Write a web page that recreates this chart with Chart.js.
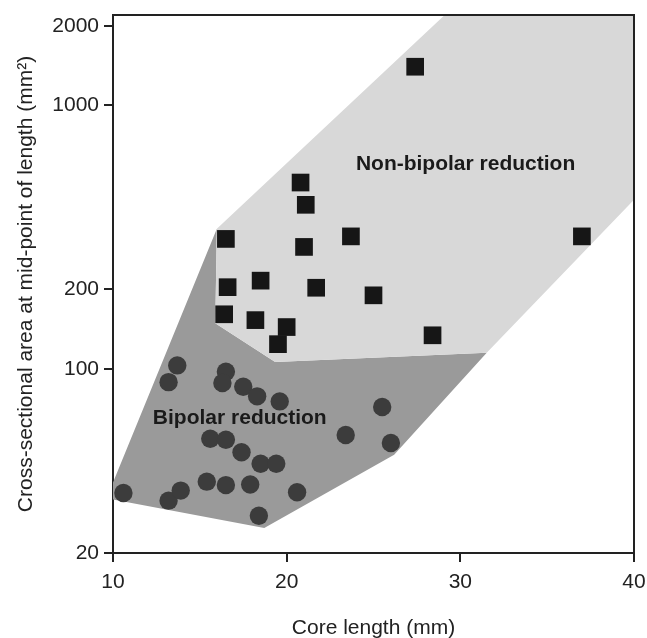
<!DOCTYPE html>
<html>
<head>
<meta charset="utf-8">
<title>Core length vs cross-sectional area</title>
<script src="https://cdn.jsdelivr.net/npm/chart.js@4/dist/chart.umd.min.js"></script>
<style>
  html, body { margin: 0; padding: 0; background: #fff; }
  canvas { display: block; }
</style>
</head>
<body>
<canvas id="coreChart" width="647" height="638"></canvas>
<script>
// axis ticks
const xTicks = [10, 20, 30, 40];
const yTicks = [20, 100, 200, 1000, 2000];

// non-bipolar cores (squares): core length (mm), area (mm2)
const squareLength = [27.4, 20.8, 21.1, 16.5, 21.0, 23.7, 37.0, 16.6, 18.5, 21.7, 25.0, 28.4, 16.4, 18.2, 20.0, 19.5];
const squareArea   = [1400, 509, 419, 311, 290, 318, 318, 204, 216, 203, 190, 134, 161, 153, 144, 124];

// bipolar cores (circles)
const circleLength = [13.7, 13.2, 16.5, 16.3, 17.5, 18.3, 19.6, 15.6, 16.5, 17.4, 18.5, 19.4, 10.6, 13.2, 13.9, 15.4, 16.5, 17.9, 18.4, 20.6, 25.5, 23.4, 26.0];
const circleArea   = [103, 89, 97.5, 88.3, 85.5, 78.6, 75.2, 54.3, 53.8, 48.2, 43.6, 43.6, 33.8, 31.6, 34.5, 37.3, 36.2, 36.4, 27.7, 34.0, 71.6, 56.1, 52.3];

// shaded zones (outline vertices)
const nonBipolarZoneX = [15.98, 29.1, 40, 40, 31.52, 19.34, 15.89];
const nonBipolarZoneY = [340, 2200, 2200, 438, 115, 106, 149];
const bipolarZoneX = [15.98, 10, 10, 18.71, 26.19, 31.52, 19.34, 15.89];
const bipolarZoneY = [340, 37, 31.9, 24.9, 47.2, 115, 106, 149];

const zoneLabels = [
    { text: 'Non-bipolar reduction', x: 30.3, y: 600 },
    { text: 'Bipolar reduction', x: 17.3, y: 65 }
];

const FONT = '"Liberation Sans", Arial, Helvetica, sans-serif';
const INK = '#222';

function toPoints(xs, ys) {
    return xs.map((x, i) => ({ x: x, y: ys[i] }));
}

// region names drawn in data space
const zoneLabelPlugin = {
    id: 'zoneLabels',
    afterDatasetsDraw(chart) {
        const { ctx, scales: { x, y } } = chart;
        ctx.save();
        ctx.font = 'bold 21px ' + FONT;
        ctx.fillStyle = '#1a1a1a';
        ctx.textAlign = 'center';
        ctx.textBaseline = 'middle';
        zoneLabels.forEach(l => {
            ctx.fillText(l.text, x.getPixelForValue(l.x), y.getPixelForValue(l.y));
        });
        ctx.restore();
    }
};

// top and right edges of the plot box
const framePlugin = {
    id: 'frame',
    afterDraw(chart) {
        const { ctx, chartArea: a } = chart;
        ctx.save();
        ctx.strokeStyle = INK;
        ctx.lineWidth = 2;
        ctx.beginPath();
        ctx.moveTo(a.left, a.top);
        ctx.lineTo(a.right, a.top);
        ctx.lineTo(a.right, a.bottom);
        ctx.stroke();
        ctx.restore();
    }
};

Chart.defaults.font.family = FONT;
Chart.defaults.color = INK;

const zoneStyle = {
    showLine: true,
    fill: 'shape',
    borderColor: 'rgba(0,0,0,0)',
    borderWidth: 1,
    pointRadius: 0,
    pointHoverRadius: 0,
    order: 3
};

new Chart(document.getElementById('coreChart'), {
    type: 'scatter',
    data: {
        datasets: [
            Object.assign({ label: 'Non-bipolar zone', data: toPoints(nonBipolarZoneX, nonBipolarZoneY), backgroundColor: '#d8d8d8' }, zoneStyle),
            Object.assign({ label: 'Bipolar zone', data: toPoints(bipolarZoneX, bipolarZoneY), backgroundColor: '#9a9a9a' }, zoneStyle),
            {
                label: 'Bipolar reduction',
                data: toPoints(circleLength, circleArea),
                pointStyle: 'circle',
                pointRadius: 9.2,
                backgroundColor: '#3c3c3c',
                borderWidth: 0,
                order: 2
            },
            {
                label: 'Non-bipolar reduction',
                data: toPoints(squareLength, squareArea),
                pointStyle: 'rect',
                pointRadius: 12.5,
                backgroundColor: '#161616',
                borderColor: '#161616',
                borderWidth: 0,
                order: 1
            }
        ]
    },
    options: {
        responsive: false,
        animation: false,
        events: [],
        layout: { padding: { top: 15, right: 13, left: 0, bottom: 0 } },
        plugins: {
            legend: { display: false },
            tooltip: { enabled: false }
        },
        scales: {
            x: {
                type: 'linear',
                min: 10,
                max: 40,
                afterBuildTicks: s => { s.ticks = xTicks.map(v => ({ value: v })); },
                afterFit: s => { s.height = 85; s.paddingLeft = 0; s.paddingRight = 0; },
                ticks: { font: { size: 21 }, padding: 8, color: INK },
                grid: { drawOnChartArea: false, drawTicks: true, tickLength: 9, color: INK, lineWidth: 2 },
                border: { display: true, color: INK, width: 2 },
                title: {
                    display: true,
                    text: 'Core length (mm)',
                    font: { size: 21 },
                    color: INK,
                    padding: { top: 0, bottom: -3 }
                }
            },
            y: {
                type: 'logarithmic',
                min: 20,
                max: 2200,
                afterBuildTicks: s => { s.ticks = yTicks.map(v => ({ value: v })); },
                afterFit: s => { s.width = 113; s.paddingTop = 0; s.paddingBottom = 0; },
                ticks: { font: { size: 21 }, padding: 5, color: INK, callback: v => String(v) },
                grid: { drawOnChartArea: false, drawTicks: true, tickLength: 9, color: INK, lineWidth: 2 },
                border: { display: true, color: INK, width: 2 },
                title: {
                    display: true,
                    text: 'Cross-sectional area at mid-point of length (mm²)',
                    font: { size: 21 },
                    color: INK,
                    padding: { top: 14, bottom: 0 }
                }
            }
        }
    },
    plugins: [zoneLabelPlugin, framePlugin]
});
</script>
</body>
</html>
